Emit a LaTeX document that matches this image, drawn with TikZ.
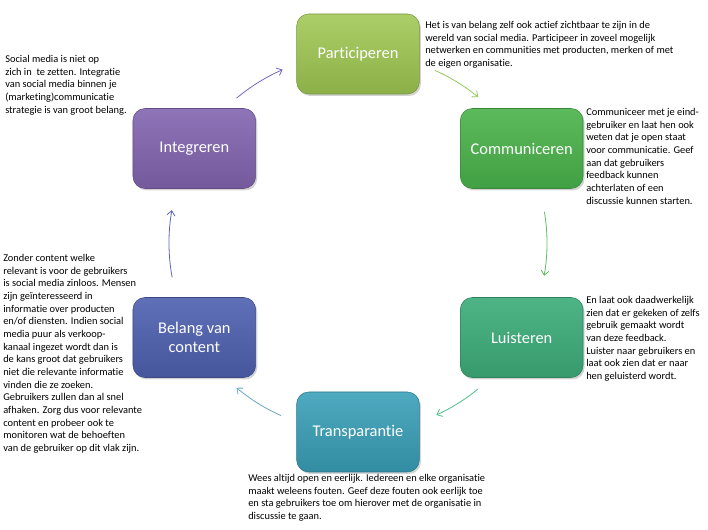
\documentclass[tikz,border=0pt]{standalone}
\usepackage{fontspec}
\setmainfont{Carlito}[Ligatures=NoCommon]
\usepackage{tikz}
\usepackage{xcolor}
\newdimen\cycleDist
\cycleDist=141.75pt
\usetikzlibrary{shadows,arrows.meta}

\definecolor{partTop}{RGB}{172,206,104}
\definecolor{partBot}{RGB}{140,176,72}
\definecolor{commTop}{RGB}{92,186,92}
\definecolor{commBot}{RGB}{66,160,68}
\definecolor{luisTop}{RGB}{78,180,134}
\definecolor{luisBot}{RGB}{54,154,108}
\definecolor{tranTop}{RGB}{78,170,192}
\definecolor{tranBot}{RGB}{50,140,162}
\definecolor{belaTop}{RGB}{96,112,184}
\definecolor{belaBot}{RGB}{70,86,156}
\definecolor{inteTop}{RGB}{142,116,184}
\definecolor{inteBot}{RGB}{116,90,156}
\definecolor{arrPurple}{RGB}{118,100,190}
\definecolor{arrLime}{RGB}{146,200,92}
\definecolor{arrGreen}{RGB}{96,190,96}
\definecolor{arrSea}{RGB}{80,190,140}
\definecolor{arrTeal}{RGB}{104,168,196}
\definecolor{arrBlue}{RGB}{92,104,178}

\begin{document}
\begin{tikzpicture}[x=0.75pt,y=0.75pt,
    stage/.style={%
      rectangle,
      rounded corners=9pt,
      minimum width=92pt,
      minimum height=60pt,
      text=white,
      align=center,
      font=\fontsize{12.3}{14}\selectfont,
      drop shadow={shadow xshift=1.2pt,shadow yshift=-1.5pt,opacity=0.35},
    },
    note/.style={%
      anchor=north west,
      inner sep=0pt,
      align=left,
      font=\fontsize{7.8}{9.5}\selectfont,
    },
    flow/.style={%
      -{Straight Barb[length=3.5pt,width=6pt]},
      line width=0.6pt,
    },
  ]
    \useasboundingbox (0,0) rectangle (708,530);
    \coordinate (ctr) at (358,287);

    % the six stages
    \path (ctr) ++(90:\cycleDist) node [stage, top color=partTop, bottom color=partBot, draw=partBot!85!black] (part) {Participeren};
    \path (ctr) ++(30:\cycleDist) node [stage, top color=commTop, bottom color=commBot, draw=commBot!85!black] (comm) {Communiceren};
    \path (ctr) ++(-30:\cycleDist) node [stage, top color=luisTop, bottom color=luisBot, draw=luisBot!85!black] (luis) {Luisteren};
    \path (ctr) ++(-90:\cycleDist) node [stage, top color=tranTop, bottom color=tranBot, draw=tranBot!85!black] (tran) {Transparantie};
    \path (ctr) ++(-150:\cycleDist) node [stage, top color=belaTop, bottom color=belaBot, draw=belaBot!85!black] (bela) {Belang van\\content};
    \path (ctr) ++(150:\cycleDist) node [stage, top color=inteTop, bottom color=inteBot, draw=inteBot!85!black] (inte) {Integreren};

    % arcs between the stages
    \path (ctr) ++(130:\cycleDist) coordinate (a1);
    \path (ctr) ++(66:\cycleDist) coordinate (a2);
    \path (ctr) ++(9.5:\cycleDist) coordinate (a3);
    \path (ctr) ++(-50.5:\cycleDist) coordinate (a4);
    \path (ctr) ++(-114:\cycleDist) coordinate (a5);
    \path (ctr) ++(-169.5:\cycleDist) coordinate (a6);
    \draw [flow, arrPurple] (a1) arc [start angle=130, end angle=113.5, radius=\cycleDist];
    \draw [flow, arrLime] (a2) arc [start angle=66, end angle=50.5, radius=\cycleDist];
    \draw [flow, arrGreen] (a3) arc [start angle=9.5, end angle=-10, radius=\cycleDist];
    \draw [flow, arrSea] (a4) arc [start angle=-50.5, end angle=-65.5, radius=\cycleDist];
    \draw [flow, arrTeal] (a5) arc [start angle=-114, end angle=-130, radius=\cycleDist];
    \draw [flow, arrBlue] (a6) arc [start angle=-169.5, end angle=-190, radius=\cycleDist];

    % explanations
    \node [note] (tInte) at (5,475) {Social media is niet op\\zich in\ \ te zetten. Integratie\\van social media binnen je\\(marketing)communicatie\\strategie is van groot belang.};
    \node [note] (tPart) at (425,509) {Het is van belang zelf ook actief zichtbaar te zijn in de\\wereld van social media. Participeer in zoveel mogelijk\\netwerken en communities met producten, merken of met\\de eigen organisatie.};
    \node [note] (tComm) at (586,422) {Communiceer met je eind-\\gebruiker en laat hen ook\\weten dat je open staat\\voor communicatie. Geef\\aan dat gebruikers\\feedback kunnen\\achterlaten of een\\discussie kunnen starten.};
    \node [note] (tLuis) at (586,234) {En laat ook daadwerkelijk\\zien dat er gekeken of zelfs\\gebruik gemaakt wordt\\van deze feedback.\\Luister naar gebruikers en\\laat ook zien dat er naar\\hen geluisterd wordt.};
    \node [note] (tTran) at (248,56) {Wees altijd open en eerlijk. Iedereen en elke organisatie\\maakt weleens fouten. Geef deze fouten ook eerlijk toe\\en sta gebruikers toe om hierover met de organisatie in\\discussie te gaan.};
    \node [note] (tBela) at (3,276) {Zonder content welke\\relevant is voor de gebruikers\\is social media zinloos. Mensen\\zijn geïnteresseerd in\\informatie over producten\\en/of diensten. Indien social\\media puur als verkoop-\\kanaal ingezet wordt dan is\\de kans groot dat gebruikers\\niet die relevante informatie\\vinden die ze zoeken.\\Gebruikers zullen dan al snel\\afhaken. Zorg dus voor relevante\\content en probeer ook te\\monitoren wat de behoeften\\van de gebruiker op dit vlak zijn.};
\end{tikzpicture}
\end{document}
